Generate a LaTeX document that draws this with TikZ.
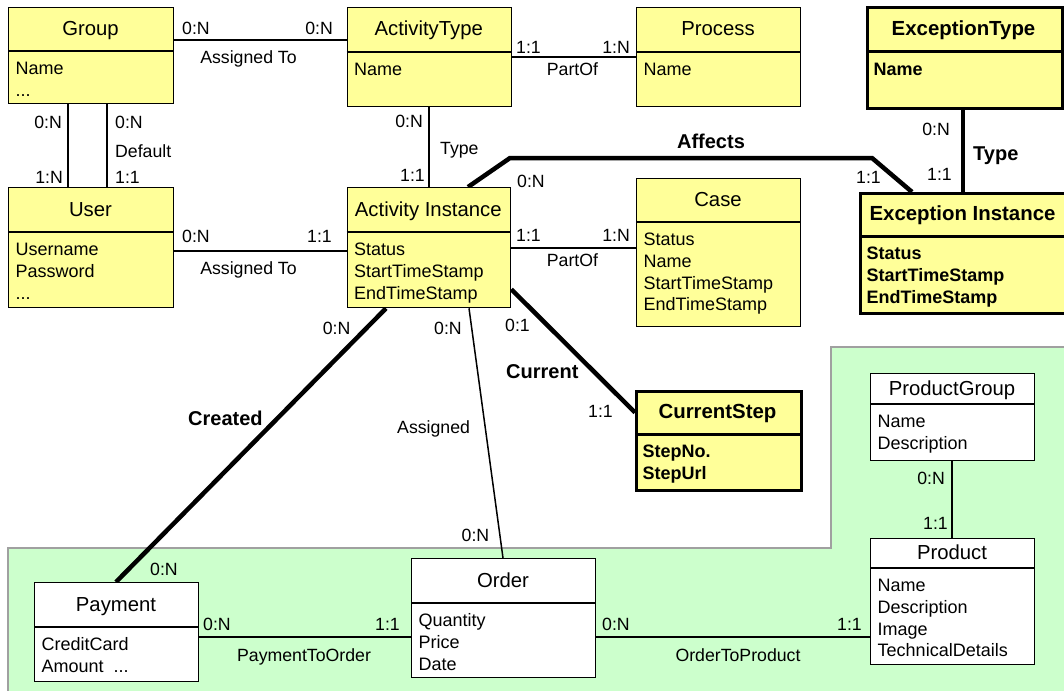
\documentclass[tikz,border=0pt]{standalone}
\usepackage{fontspec}
\setmainfont{Liberation Sans}
\usetikzlibrary{calc}
\pgfdeclarelayer{back}
\pgfdeclarelayer{links}
\pgfsetlayers{back,links,main}

\definecolor{boxyellow}{HTML}{FFFF99}
\definecolor{regiongreen}{HTML}{CCFFCC}
\definecolor{regionedge}{HTML}{A0A0A0}

\newcommand{\moredots}{.\kern0pt.\kern0pt.}

% entity box: style, name, left, top, right, bottom, divider, title, attributes
\newcommand{\erentity}[9]{%
  \node[#1, anchor=north west, minimum width={#5pt-#3pt}, minimum height={#6pt-#4pt}] (#2) at (#3,#4) {};
  \draw[#1 rule] (#3,#7) -- (#5,#7);
  \node[#1 title, anchor=base] (#2-title) at ({(#3+#5)/2},{(#4+#7)/2+6.5}) {#8};
  \foreach \entattr [count=\k] in {#9} {
    \node[#1 attr, anchor=base west] (#2-attr\k) at ({#3+7.5},{#7+23.5+(\k-1)*21.8}) {\entattr};
  }%
}

\tikzset{
  ybox/.style={draw=black, line width=1.3pt, fill=boxyellow, inner sep=0pt},
  ybox rule/.style={draw=black, line width=1.3pt},
  ybox title/.style={font=\fontsize{20.3}{24}\selectfont, inner sep=0pt},
  ybox attr/.style={font=\fontsize{18}{21}\selectfont, inner sep=0pt},
  xbox/.style={draw=black, line width=3pt, fill=boxyellow, inner sep=0pt},
  xbox rule/.style={draw=black, line width=3pt},
  xbox title/.style={font=\bfseries\fontsize{20.4}{24}\selectfont, inner sep=0pt},
  xbox attr/.style={font=\bfseries\fontsize{18}{21}\selectfont, inner sep=0pt},
  wbox/.style={draw=black, line width=1.3pt, fill=white, inner sep=0pt},
  wbox rule/.style={draw=black, line width=1.3pt},
  wbox title/.style={font=\fontsize{20.3}{24}\selectfont, inner sep=0pt},
  wbox attr/.style={font=\fontsize{18}{21}\selectfont, inner sep=0pt},
  card/.style={font=\fontsize{17.7}{21}\selectfont, inner sep=0pt},
  rolename/.style={font=\fontsize{17.7}{21}\selectfont, inner sep=0pt},
  rolebold/.style={font=\bfseries\fontsize{20}{24}\selectfont, inner sep=0pt},
  rel/.style={draw=black, line width=1.5pt},
  relthick/.style={draw=black, line width=4.5pt},
}

\begin{document}
\begin{tikzpicture}[x=1pt, y=-1pt]
\useasboundingbox (0,0) rectangle (1064,690);

% product area
\begin{pgfonlayer}{back}
  \fill[regiongreen] (8,548) -- (831,548) -- (831,347) -- (1080,347) -- (1080,700) -- (8,700) -- cycle;
  \draw[regionedge, line width=2pt] (8,700) -- (8,548) -- (831,548) -- (831,347) -- (1080,347);
\end{pgfonlayer}

% entities
\erentity{ybox}{grp}{8}{7}{173}{103}{51}{Group}{Name,\moredots}
\erentity{ybox}{atype}{346.5}{7}{511}{106}{52}{ActivityType}{Name}
\erentity{ybox}{proc}{636}{7}{800}{106}{52}{Process}{Name}
\erentity{xbox}{etype}{866}{6}{1061}{107}{52}{ExceptionType}{Name}
\erentity{ybox}{user}{8}{187}{173}{307}{232}{User}{Username,Password,\moredots}
\erentity{ybox}{ainst}{346.5}{187}{510}{307}{232}{Activity Instance}{Status,StartTimeStamp,EndTimeStamp}
\erentity{ybox}{case}{636}{178}{800}{326}{222}{Case}{Status,Name,StartTimeStamp,EndTimeStamp}
\erentity{xbox}{einst}{859}{192}{1066}{312}{236}{Exception Instance}{Status,StartTimeStamp,EndTimeStamp}
\erentity{xbox}{cstep}{635}{390}{800}{489}{434}{CurrentStep}{StepNo.,StepUrl}
\erentity{wbox}{pgrp}{870}{373}{1034}{460}{404}{ProductGroup}{Name,Description}
\erentity{wbox}{prod}{870}{538}{1034}{664}{568}{Product}{Name,Description,Image,TechnicalDetails}
\erentity{wbox}{order}{411}{558}{595}{677}{603}{Order}{Quantity,Price,Date}
\erentity{wbox}{pay}{34}{582}{198}{681}{627}{Payment}{CreditCard,Amount\ \ \moredots}

% bend points of the Affects relation
\coordinate (aff1) at (510,158);
\coordinate (aff2) at (872,158);

% relations
\begin{pgfonlayer}{links}
  \draw[rel] ([yshift=-33pt]grp.north east) -- ([yshift=-33pt]atype.north west);
  \draw[rel] ([xshift=60pt]grp.south west) -- ([xshift=60pt]user.north west);
  \draw[rel] ([xshift=99pt]grp.south west) -- ([xshift=99pt]user.north west);
  \draw[rel] ([yshift=-64pt]user.north east) -- ([yshift=-64pt]ainst.north west);
  \draw[rel] ([yshift=-50pt]atype.north east) -- ([yshift=-50pt]proc.north west);
  \draw[rel] ([xshift=82.5pt]atype.south west) -- ([xshift=82.5pt]ainst.north west);
  \draw[rel] ([yshift=-61pt]ainst.north east) -- ([yshift=-70pt]case.north west);
  \draw[relthick] ([xshift=121.5pt]ainst.north west) -- (aff1) -- (aff2) -- ([xshift=53pt]einst.north west);
  \draw[relthick] ([xshift=97pt]etype.south west) -- ([xshift=104pt]einst.north west);
  \draw[relthick] ([xshift=39.5pt]ainst.south west) -- ([xshift=82pt]pay.north west);
  \draw[rel] ([xshift=122.5pt]ainst.south west) -- ([xshift=92pt]order.north west);
  \draw[relthick] ([yshift=19pt]ainst.south east) -- ([yshift=-22.5pt]cstep.north west);
  \draw[rel] ([yshift=-55pt]pay.north east) -- ([yshift=-79pt]order.north west);
  \draw[rel] ([yshift=-79pt]order.north east) -- ([yshift=-99pt]prod.north west);
  \draw[rel] ([xshift=82pt]pgrp.south west) -- ([xshift=82pt]prod.north west);
\end{pgfonlayer}

% cardinalities and role names
\node[card, anchor=base west] (ga1) at (182,34.3) {0:N};
\node[card, anchor=base east] (ga2) at (333,34.3) {0:N};
\node[rolename, anchor=base] (ga3) at (248.5,64) {Assigned To};

\node[card, anchor=base east] (gu1) at (62,128.3) {0:N};
\node[card, anchor=base east] (gu2) at (63,183.3) {1:N};
\node[card, anchor=base west] (gu3) at (115,128.3) {0:N};
\node[rolename, anchor=base west] (gu4) at (115,157.7) {Default};
\node[card, anchor=base west] (gu5) at (115,183.3) {1:1};

\node[card, anchor=base west] (ua1) at (182,242.3) {0:N};
\node[card, anchor=base east] (ua2) at (332,242.3) {1:1};
\node[rolename, anchor=base] (ua3) at (248.5,274) {Assigned To};

\node[card, anchor=base west] (ap1) at (516,53.3) {1:1};
\node[card, anchor=base east] (ap2) at (630,53.3) {1:N};
\node[rolename, anchor=base] (ap3) at (572.5,76) {PartOf};

\node[card, anchor=base east] (at1) at (423,127.7) {0:N};
\node[rolename, anchor=base west] (at2) at (440,154.4) {Type};
\node[card, anchor=base east] (at3) at (425,181) {1:1};

\node[card, anchor=base west] (ac1) at (516,241) {1:1};
\node[card, anchor=base east] (ac2) at (630,241) {1:N};
\node[rolename, anchor=base] (ac3) at (572.5,266.7) {PartOf};

\node[card, anchor=base west] (af1) at (517,187.7) {0:N};
\node[rolebold, anchor=base] (af2) at (711,148.3) {Affects};
\node[card, anchor=base west] (af3) at (856,183.3) {1:1};

\node[card, anchor=base east] (et1) at (950,135.7) {0:N};
\node[card, anchor=base east] (et2) at (952,180) {1:1};
\node[rolebold, anchor=base west] (et3) at (973,160) {Type};

\node[card, anchor=base east] (cr1) at (350.5,334) {0:N};
\node[rolebold, anchor=base west] (cr2) at (188,425.7) {Created};
\node[card, anchor=base west] (cr3) at (150,575) {0:N};

\node[card, anchor=base west] (as1) at (434,334) {0:N};
\node[rolename, anchor=base west] (as2) at (397,433) {Assigned};
\node[card, anchor=base west] (as3) at (461.5,541.7) {0:N};

\node[card, anchor=base west] (cu1) at (505,331.5) {0:1};
\node[rolebold, anchor=base west] (cu2) at (506,378.5) {Current};
\node[card, anchor=base east] (cu3) at (613,417.7) {1:1};

\node[card, anchor=base west] (po1) at (203,630) {0:N};
\node[card, anchor=base east] (po2) at (400,630) {1:1};
\node[rolename, anchor=base] (po3) at (304,661.5) {PaymentToOrder};

\node[card, anchor=base west] (op1) at (602,630) {0:N};
\node[card, anchor=base east] (op2) at (862,630) {1:1};
\node[rolename, anchor=base] (op3) at (738,661.5) {OrderToProduct};

\node[card, anchor=base east] (pp1) at (945,484) {0:N};
\node[card, anchor=base east] (pp2) at (948,529.3) {1:1};
\end{tikzpicture}
\end{document}
